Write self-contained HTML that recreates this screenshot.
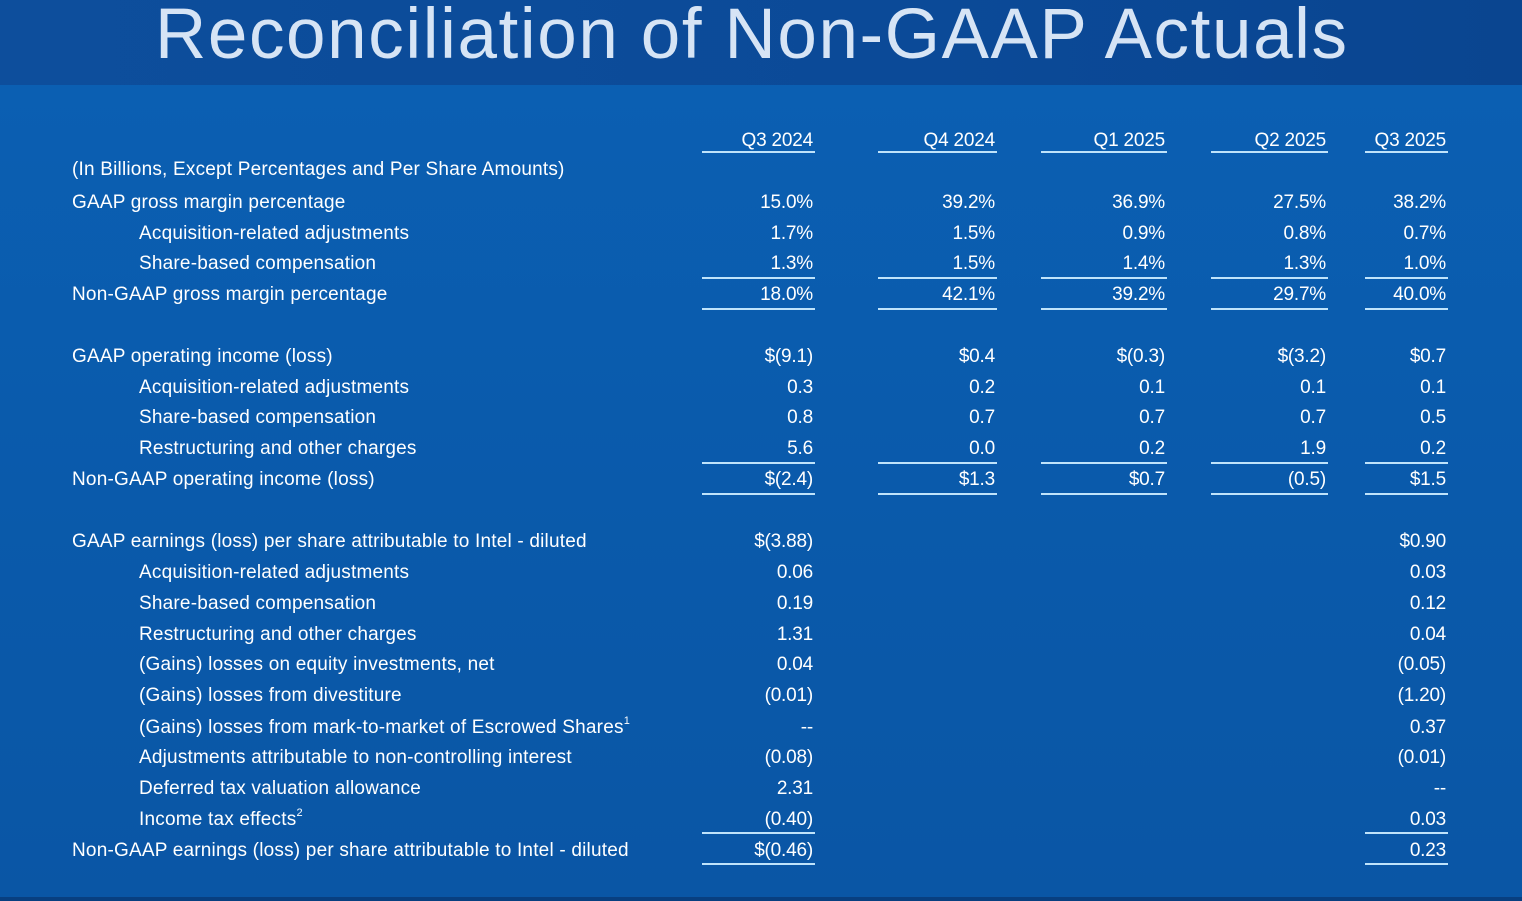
<!DOCTYPE html>
<html><head><meta charset="utf-8"><style>
*{margin:0;padding:0;box-sizing:border-box}
body{width:1522px;height:901px;overflow:hidden;background:#0a5aab;font-family:"Liberation Sans",sans-serif;color:#fff;position:relative}
.hdr{position:absolute;left:0;top:0;width:1522px;height:85px;background:linear-gradient(90deg,#0d4e9c,#0b4a98 60%,#0a4590)}
.title{position:absolute;left:155px;top:-6px;font-size:71px;letter-spacing:1.6px;color:#d6e4f5;white-space:nowrap}
.body{position:absolute;left:0;top:85px;width:1522px;height:812px;background:linear-gradient(180deg,#0b5fb2,#0a5aab 50%,#0a56a5)}
.foot{position:absolute;left:0;top:897px;width:1522px;height:4px;background:#083f80}
#c{position:absolute;left:0;top:2px;width:1522px;height:899px}
.t{position:absolute;font-size:19px;letter-spacing:0.2px;white-space:nowrap;line-height:22px}
.v{position:absolute;font-size:19px;letter-spacing:-0.2px;white-space:nowrap;line-height:22px;text-align:right;width:150px}
.ln{position:absolute;height:2px;background:#bfe3fb}
sup{font-size:11px;vertical-align:top;line-height:0;position:relative;top:4px}
</style></head><body>
<div class="hdr"></div><div class="body"></div><div class="foot"></div>
<div class="title">Reconciliation of Non-GAAP Actuals</div>
<div id="c">
<div class="v" style="top:128px;left:663px">Q3 2024</div>
<div class="v" style="top:128px;left:845px">Q4 2024</div>
<div class="v" style="top:128px;left:1015px">Q1 2025</div>
<div class="v" style="top:128px;left:1176px">Q2 2025</div>
<div class="v" style="top:128px;left:1296px">Q3 2025</div>

<div class="ln" style="top:149px;left:702px;width:113px"></div>
<div class="ln" style="top:149px;left:878px;width:119px"></div>
<div class="ln" style="top:149px;left:1041px;width:126px"></div>
<div class="ln" style="top:149px;left:1211px;width:117px"></div>
<div class="ln" style="top:149px;left:1365px;width:83px"></div>

<div class="ln" style="top:275px;left:702px;width:113px"></div>
<div class="ln" style="top:275px;left:878px;width:119px"></div>
<div class="ln" style="top:275px;left:1041px;width:126px"></div>
<div class="ln" style="top:275px;left:1211px;width:117px"></div>
<div class="ln" style="top:275px;left:1365px;width:83px"></div>
<div class="ln" style="top:306px;left:702px;width:113px"></div>
<div class="ln" style="top:306px;left:878px;width:119px"></div>
<div class="ln" style="top:306px;left:1041px;width:126px"></div>
<div class="ln" style="top:306px;left:1211px;width:117px"></div>
<div class="ln" style="top:306px;left:1365px;width:83px"></div>

<div class="ln" style="top:460px;left:702px;width:113px"></div>
<div class="ln" style="top:460px;left:878px;width:119px"></div>
<div class="ln" style="top:460px;left:1041px;width:126px"></div>
<div class="ln" style="top:460px;left:1211px;width:117px"></div>
<div class="ln" style="top:460px;left:1365px;width:83px"></div>
<div class="ln" style="top:491px;left:702px;width:113px"></div>
<div class="ln" style="top:491px;left:878px;width:119px"></div>
<div class="ln" style="top:491px;left:1041px;width:126px"></div>
<div class="ln" style="top:491px;left:1211px;width:117px"></div>
<div class="ln" style="top:491px;left:1365px;width:83px"></div>

<div class="ln" style="top:830px;left:702px;width:113px"></div>
<div class="ln" style="top:830px;left:1365px;width:83px"></div>
<div class="ln" style="top:861px;left:702px;width:113px"></div>
<div class="ln" style="top:861px;left:1365px;width:83px"></div>

<div class="t" style="top:157px;left:72px">(In Billions, Except Percentages and Per Share Amounts)</div>
<div class="t" style="top:190px;left:72px">GAAP gross margin percentage</div>
<div class="t" style="top:221px;left:139px">Acquisition-related adjustments</div>
<div class="t" style="top:251px;left:139px">Share-based compensation</div>
<div class="t" style="top:282px;left:72px">Non-GAAP gross margin percentage</div>

<div class="t" style="top:344px;left:72px">GAAP operating income (loss)</div>
<div class="t" style="top:375px;left:139px">Acquisition-related adjustments</div>
<div class="t" style="top:405px;left:139px">Share-based compensation</div>
<div class="t" style="top:436px;left:139px">Restructuring and other charges</div>
<div class="t" style="top:467px;left:72px">Non-GAAP operating income (loss)</div>

<div class="t" style="top:529px;left:72px">GAAP earnings (loss) per share attributable to Intel - diluted</div>
<div class="t" style="top:560px;left:139px">Acquisition-related adjustments</div>
<div class="t" style="top:591px;left:139px">Share-based compensation</div>
<div class="t" style="top:622px;left:139px">Restructuring and other charges</div>
<div class="t" style="top:652px;left:139px">(Gains) losses on equity investments, net</div>
<div class="t" style="top:683px;left:139px">(Gains) losses from divestiture</div>
<div class="t" style="top:715px;left:139px">(Gains) losses from mark-to-market of Escrowed Shares<sup>1</sup></div>
<div class="t" style="top:745px;left:139px">Adjustments attributable to non-controlling interest</div>
<div class="t" style="top:776px;left:139px">Deferred tax valuation allowance</div>
<div class="t" style="top:807px;left:139px">Income tax effects<sup>2</sup></div>
<div class="t" style="top:838px;left:72px">Non-GAAP earnings (loss) per share attributable to Intel - diluted</div>

<div class="v" style="top:190px;left:663px">15.0%</div><div class="v" style="top:190px;left:845px">39.2%</div><div class="v" style="top:190px;left:1015px">36.9%</div><div class="v" style="top:190px;left:1176px">27.5%</div><div class="v" style="top:190px;left:1296px">38.2%</div>
<div class="v" style="top:221px;left:663px">1.7%</div><div class="v" style="top:221px;left:845px">1.5%</div><div class="v" style="top:221px;left:1015px">0.9%</div><div class="v" style="top:221px;left:1176px">0.8%</div><div class="v" style="top:221px;left:1296px">0.7%</div>
<div class="v" style="top:251px;left:663px">1.3%</div><div class="v" style="top:251px;left:845px">1.5%</div><div class="v" style="top:251px;left:1015px">1.4%</div><div class="v" style="top:251px;left:1176px">1.3%</div><div class="v" style="top:251px;left:1296px">1.0%</div>
<div class="v" style="top:282px;left:663px">18.0%</div><div class="v" style="top:282px;left:845px">42.1%</div><div class="v" style="top:282px;left:1015px">39.2%</div><div class="v" style="top:282px;left:1176px">29.7%</div><div class="v" style="top:282px;left:1296px">40.0%</div>

<div class="v" style="top:344px;left:663px">$(9.1)</div><div class="v" style="top:344px;left:845px">$0.4</div><div class="v" style="top:344px;left:1015px">$(0.3)</div><div class="v" style="top:344px;left:1176px">$(3.2)</div><div class="v" style="top:344px;left:1296px">$0.7</div>
<div class="v" style="top:375px;left:663px">0.3</div><div class="v" style="top:375px;left:845px">0.2</div><div class="v" style="top:375px;left:1015px">0.1</div><div class="v" style="top:375px;left:1176px">0.1</div><div class="v" style="top:375px;left:1296px">0.1</div>
<div class="v" style="top:405px;left:663px">0.8</div><div class="v" style="top:405px;left:845px">0.7</div><div class="v" style="top:405px;left:1015px">0.7</div><div class="v" style="top:405px;left:1176px">0.7</div><div class="v" style="top:405px;left:1296px">0.5</div>
<div class="v" style="top:436px;left:663px">5.6</div><div class="v" style="top:436px;left:845px">0.0</div><div class="v" style="top:436px;left:1015px">0.2</div><div class="v" style="top:436px;left:1176px">1.9</div><div class="v" style="top:436px;left:1296px">0.2</div>
<div class="v" style="top:467px;left:663px">$(2.4)</div><div class="v" style="top:467px;left:845px">$1.3</div><div class="v" style="top:467px;left:1015px">$0.7</div><div class="v" style="top:467px;left:1176px">(0.5)</div><div class="v" style="top:467px;left:1296px">$1.5</div>

<div class="v" style="top:529px;left:663px">$(3.88)</div><div class="v" style="top:529px;left:1296px">$0.90</div>
<div class="v" style="top:560px;left:663px">0.06</div><div class="v" style="top:560px;left:1296px">0.03</div>
<div class="v" style="top:591px;left:663px">0.19</div><div class="v" style="top:591px;left:1296px">0.12</div>
<div class="v" style="top:622px;left:663px">1.31</div><div class="v" style="top:622px;left:1296px">0.04</div>
<div class="v" style="top:652px;left:663px">0.04</div><div class="v" style="top:652px;left:1296px">(0.05)</div>
<div class="v" style="top:683px;left:663px">(0.01)</div><div class="v" style="top:683px;left:1296px">(1.20)</div>
<div class="v" style="top:715px;left:663px">--</div><div class="v" style="top:715px;left:1296px">0.37</div>
<div class="v" style="top:745px;left:663px">(0.08)</div><div class="v" style="top:745px;left:1296px">(0.01)</div>
<div class="v" style="top:776px;left:663px">2.31</div><div class="v" style="top:776px;left:1296px">--</div>
<div class="v" style="top:807px;left:663px">(0.40)</div><div class="v" style="top:807px;left:1296px">0.03</div>
<div class="v" style="top:838px;left:663px">$(0.46)</div><div class="v" style="top:838px;left:1296px">0.23</div>
</div>
</body></html>
